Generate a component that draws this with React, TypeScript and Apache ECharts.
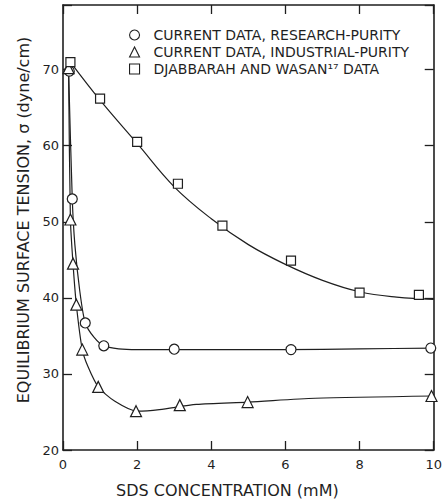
import React, { useEffect, useRef } from "react";
import * as echarts from "echarts";

// Djabbarah and Wasan data (squares)
const sqX = [0.2, 1.0, 2.0, 3.1, 4.3, 6.15, 8.0, 9.6];
const sqY = [71.0, 66.2, 60.5, 55.0, 49.5, 44.9, 40.7, 40.4];
// Research-purity (circles)
const circX = [0.17, 0.25, 0.6, 1.1, 3.0, 6.15, 9.92];
const circY = [69.8, 53.0, 36.7, 33.7, 33.25, 33.2, 33.4];
// Industrial-purity (triangles)
const triX = [0.15, 0.2, 0.27, 0.36, 0.52, 0.95, 1.97, 3.15, 4.98, 9.94];
const triY = [70.2, 50.3, 44.5, 39.1, 33.2, 28.3, 25.1, 25.9, 26.3, 27.1];

// Fitted curves as drawn in the figure
const sqCurveX = [0.2, 1, 2, 3, 4, 5, 6, 7, 8, 9, 10];
const sqCurveY = [71, 66.0, 60.3, 54.6, 50.4, 47.0, 44.4, 42.3, 40.8, 40.1, 39.8];
const circCurveX = [0.15, 0.25, 0.32, 0.45, 0.6, 0.84, 1.1, 1.5, 2, 3, 4, 6, 8, 10];
const circCurveY = [70, 53, 47, 41, 36.7, 34.8, 33.7, 33.3, 33.2, 33.2, 33.2, 33.2, 33.3, 33.4];
const triCurveX = [0.15, 0.2, 0.27, 0.36, 0.52, 0.67, 0.95, 1.4, 2, 2.6, 3.6, 5, 6.8, 10];
const triCurveY = [70, 50.3, 44.5, 39.1, 33.2, 31.0, 28.3, 26.4, 25.1, 25.3, 26.0, 26.3, 26.8, 27.1];

const seriesNames = [
  "CURRENT DATA, RESEARCH-PURITY",
  "CURRENT DATA, INDUSTRIAL-PURITY",
  "DJABBARAH AND WASAN¹⁷ DATA",
];
const xTitle = "SDS CONCENTRATION (mM)";
const yTitle = "EQUILIBRIUM SURFACE TENSION, σ (dyne/cm)";

const zip = (xs: number[], ys: number[]) => xs.map((x, i) => [x, ys[i]]);

const INK = "#1f1f1f";
const FONT = "DejaVu Sans";

export default function App() {
  const ref = useRef<HTMLDivElement>(null);
  useEffect(() => {
    if (!ref.current) return;
    const chart = echarts.init(ref.current, undefined, { renderer: "svg" });
    const axisLine = { show: true, onZero: false, lineStyle: { color: INK, width: 1.6 } };
    const axisTick = { show: true, inside: true, length: 9, lineStyle: { color: INK, width: 1.3 } };
    const lineSeries = (name: string, xs: number[], ys: number[], smooth: number) => ({
      name,
      type: "line",
      data: zip(xs, ys),
      smooth,
      symbol: "none",
      silent: true,
      z: 2,
      lineStyle: { color: INK, width: 1.2 },
    });
    const scatterSeries = (name: string, symbol: string, size: number, xs: number[], ys: number[]) => ({
      name,
      type: "scatter",
      symbol,
      symbolSize: size,
      data: zip(xs, ys),
      z: 3,
      itemStyle: { color: "#ffffff", borderColor: INK, borderWidth: 1.2, opacity: 1 },
    });
    chart.setOption({
      animation: false,
      backgroundColor: "#ffffff",
      grid: { left: 63, right: 2, top: 5, bottom: 53 },
      legend: {
        data: seriesNames,
        orient: "vertical",
        left: 124,
        top: 23,
        itemWidth: 10,
        itemHeight: 10,
        itemGap: 3,
        selectedMode: false,
        itemStyle: { color: "#ffffff", borderColor: INK, borderWidth: 1.1 },
        textStyle: { fontSize: 14, fontFamily: FONT, color: INK, lineHeight: 14, padding: [0, 0, 0, 9] },
      },
      xAxis: [
        {
          type: "value",
          min: 0,
          max: 10,
          interval: 2,
          position: "bottom",
          axisLine,
          axisTick,
          splitLine: { show: false },
          axisLabel: { fontSize: 13, fontFamily: FONT, color: INK, margin: 8 },
          name: xTitle,
          nameLocation: "middle",
          nameGap: 32,
          nameTextStyle: { fontSize: 16, fontFamily: FONT, color: INK, padding: [0, 42, 0, 0] },
        },
        {
          type: "value",
          min: 0,
          max: 10,
          interval: 2,
          position: "top",
          axisLine,
          axisTick,
          splitLine: { show: false },
          axisLabel: { show: false },
        },
      ],
      yAxis: [
        {
          type: "value",
          min: 20,
          max: 78.5,
          interval: 10,
          position: "left",
          axisLine,
          axisTick,
          splitLine: { show: false },
          axisLabel: {
            fontSize: 13,
            fontFamily: FONT,
            color: INK,
            margin: 4,
            formatter: (v: number) => (v % 10 === 0 ? String(v) : ""),
          },
          name: yTitle,
          nameLocation: "middle",
          nameGap: 30,
          nameTextStyle: { fontSize: 16, fontFamily: FONT, color: INK, padding: [0, 0, 0, 15] },
        },
        {
          type: "value",
          min: 20,
          max: 78.5,
          interval: 10,
          position: "right",
          axisLine,
          axisTick,
          splitLine: { show: false },
          axisLabel: { show: false },
        },
      ],
      series: [
        lineSeries("curve-square", sqCurveX, sqCurveY, 0.4),
        lineSeries("curve-circle", circCurveX, circCurveY, 0.25),
        lineSeries("curve-triangle", triCurveX, triCurveY, 0.25),
        scatterSeries(seriesNames[0], "circle", 10, circX, circY),
        scatterSeries(seriesNames[1], "triangle", 11, triX, triY),
        scatterSeries(seriesNames[2], "rect", 9, sqX, sqY),
      ],
    });
    return () => chart.dispose();
  }, []);
  return <div ref={ref} style={{ position: "absolute", left: 0, top: 0, width: 445, height: 503 }} />;
}
